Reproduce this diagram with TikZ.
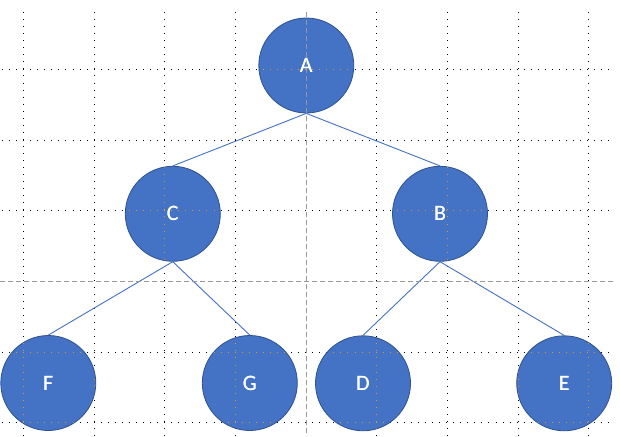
\documentclass[tikz,border=0pt]{standalone}
\usepackage{fontspec}
\setmainfont{Carlito}
\definecolor{nodefill}{HTML}{4472C4}
\definecolor{nodeedge}{HTML}{2F528F}
\definecolor{gridorange}{HTML}{D99A2B}
\begin{document}
\begin{tikzpicture}[x=1pt,y=-1pt,
  treenode/.style={circle,fill=nodefill,draw=nodeedge,line width=0.8pt,minimum size=95pt,inner sep=0pt,text=white,font=\fontsize{22}{24}\selectfont},
  treeedge/.style={draw=nodefill,line width=0.9pt},
  gridline/.style={line width=1pt,dash pattern=on 1pt off 6.05pt},
  centerline/.style={draw=gray!80,line width=0.9pt,dash pattern=on 5pt off 3pt}]
\useasboundingbox (0,0) rectangle (620,436);
\fill[white] (0,0) rectangle (620,436);
% grid
\newcommand{\drawgridlines}[1]{%
  \foreach \gx in {23.3,94,164.7,235.4,376.8,447.5,518.2,588.9}
    \draw[gridline,#1] (\gx,12) -- (\gx,436);
  \foreach \gy in {69.3,140,210.7,352.1,422.8}
    \draw[gridline,#1] (2,\gy) -- (613,\gy);}
\drawgridlines{black}
% nodes
\node[treenode] (A) at (306.3,65.5) {A};
\node[treenode] (C) at (172.8,213.8) {C};
\node[treenode] (B) at (440,213.8) {B};
\node[treenode] (F) at (48.3,383) {F};
\node[treenode] (G) at (249.8,383) {G};
\node[treenode] (D) at (363,383.3) {D};
\node[treenode] (E) at (564.2,383.3) {E};
% orange grid inside circles
\begin{scope}
  \clip (A) circle (47pt) (C) circle (47pt) (B) circle (47pt) (F) circle (47pt)
        (G) circle (47pt) (D) circle (47pt) (E) circle (47pt);
  \drawgridlines{gridorange}
\end{scope}
% edges
\draw[treeedge] (A.south) -- (C.north);
\draw[treeedge] (A.south) -- (B.north);
\draw[treeedge] (C.south) -- (F.north);
\draw[treeedge] (C.south) -- (G.north);
\draw[treeedge] (B.south) -- (D.north);
\draw[treeedge] (B.south) -- (E.north);
% center guide lines
\draw[centerline] (306.1,12) -- (306.1,436);
\draw[centerline] (0,281.6) -- (613,281.6);
% labels on top
\foreach \n/\t in {A/A,C/C,B/B,F/F,G/G,D/D,E/E}
  \node[text=white,font=\fontsize{22}{24}\selectfont] at (\n) {\t};
\end{tikzpicture}
\end{document}
